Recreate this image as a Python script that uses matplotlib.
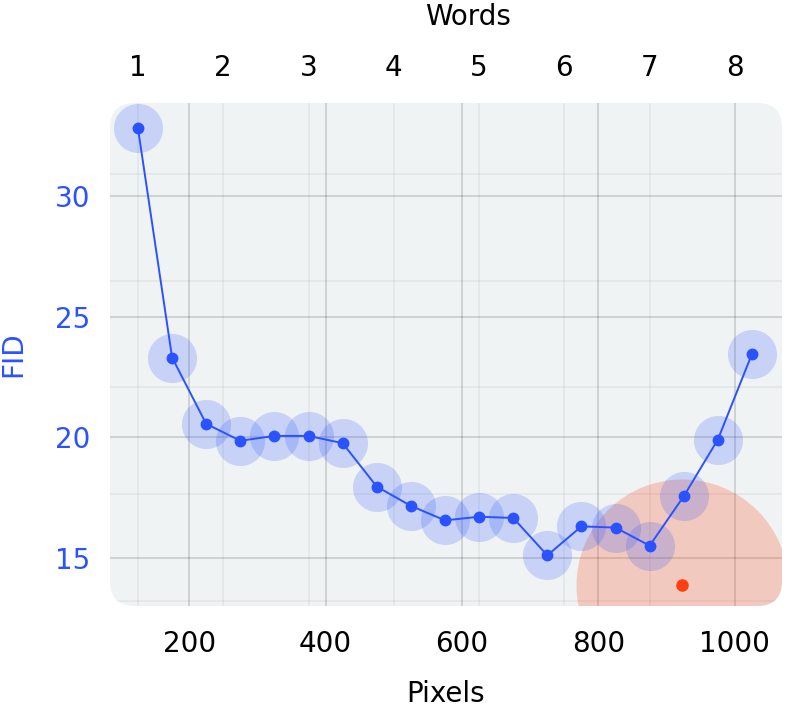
#FID versus image width (pixels / words), with highlighted optimum

import numpy
import matplotlib.pyplot as plt
from matplotlib.patches import FancyBboxPatch

# data
pixels = [125, 175, 225, 275, 325, 375, 425, 475, 525, 575,
          625, 675, 725, 775, 825, 875, 925, 975, 1025]
fid = [32.8, 23.3, 20.55, 19.85, 20.05, 20.05, 19.75, 17.95, 17.15, 16.55,
       16.7, 16.65, 15.1, 16.3, 16.25, 15.5, 17.55, 19.9, 23.45]
best_x = 922
best_y = 13.87

x_ticks = [200, 400, 600, 800, 1000]
y_ticks = [15, 20, 25, 30]
y_minor = [13.2, 17.64, 22.06, 26.49, 30.9]
word_ticks = [1, 2, 3, 4, 5, 6, 7, 8]
px_per_word = 125

blue = '#2A52FF'
red = '#FF3F10'

plt.rcParams['font.family'] = ['DejaVu Sans']

fig = plt.figure(figsize=(7.89, 7.11), dpi=100)
ax = fig.add_axes([110/789, 1 - 606/711, 672/789, 503/711])
ax.set_xlim(84, 1069)
ax.set_ylim(13.0, 33.85)

#rounded background
ax.patch.set_visible(False)
aspect = (503/711*7.11) / (672/789*7.89)
bg = FancyBboxPatch((0, 0), 1, 1, boxstyle="round,pad=0,rounding_size=0.037",
                    mutation_aspect=1/aspect, transform=ax.transAxes,
                    facecolor='#EFF3F4', edgecolor='none', zorder=0)
ax.add_patch(bg)

#grid
ax.set_xticks(x_ticks)
ax.set_yticks(y_ticks)
ax.set_xticks([w*px_per_word for w in word_ticks], minor=True)
ax.set_yticks(y_minor, minor=True)
ax.grid(which='major', color='black', alpha=0.17, lw=1.15)
ax.grid(which='minor', color='black', alpha=0.045, lw=1.4)
ax.set_axisbelow(True)
ax.tick_params(which='both', length=0)
ax.tick_params(axis='x', labelsize=20, pad=17, colors='black')
ax.tick_params(axis='y', labelsize=20, pad=14, labelcolor=blue)
for s in ax.spines.values():
    s.set_visible(False)

#highlight region and points
big = ax.scatter([best_x], [best_y], s=23300, color=red, alpha=0.23, lw=0, zorder=1)
halo = ax.scatter(pixels, fid, s=1250, color=blue, alpha=0.2, lw=0, zorder=2)
line, = ax.plot(pixels, fid, color=blue, lw=1.4, marker='o', ms=7.5, zorder=3)
dot, = ax.plot([best_x], [best_y], 'o', color=red, ms=8, zorder=4)
for a in (big, halo, line, dot):
    a.set_clip_path(bg)
ax.xaxis.set_clip_path(bg)
ax.yaxis.set_clip_path(bg)

ax.set_xlabel('Pixels', fontsize=20, labelpad=16)
ax.set_ylabel('FID', fontsize=20, color=blue, labelpad=20)

#top axis in words
sec = ax.secondary_xaxis('top', functions=(lambda x: x/px_per_word, lambda w: w*px_per_word))
sec.set_xticks(word_ticks)
sec.tick_params(length=0, labelsize=20, pad=15)
sec.spines['top'].set_visible(False)
sec.set_xlabel('Words', fontsize=20)
sec.xaxis.set_label_coords(0.533, 1.156, transform=ax.transAxes)

fig.savefig('out.png', dpi=100)
